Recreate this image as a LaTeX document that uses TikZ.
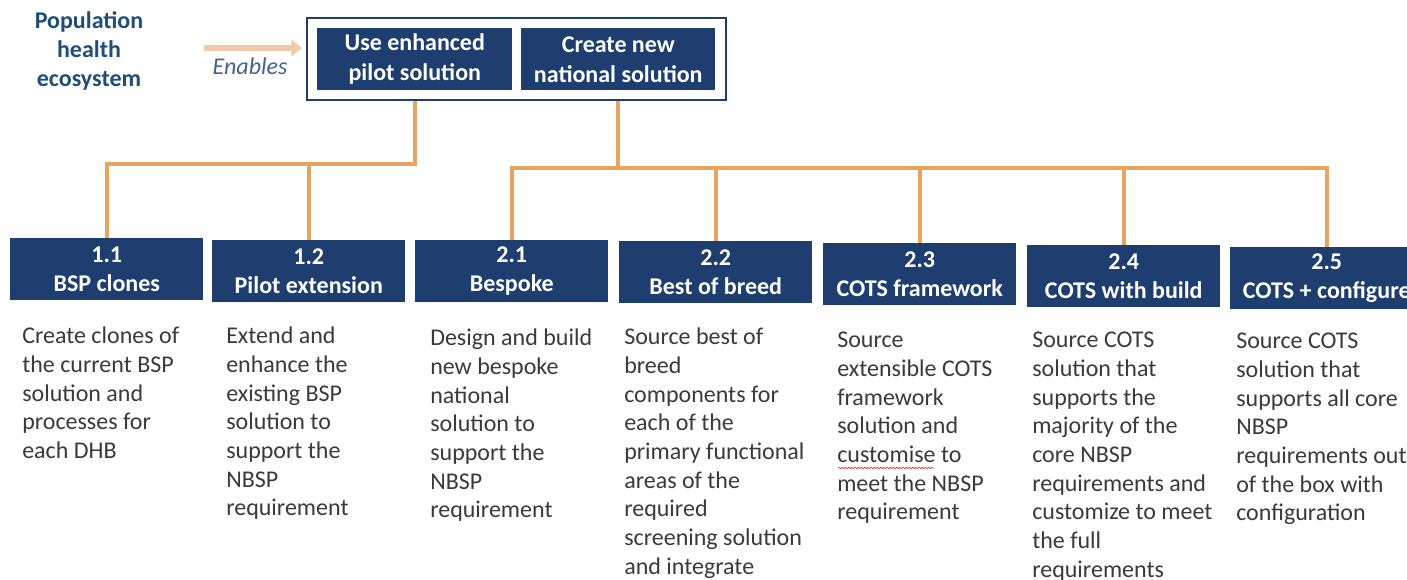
\documentclass[tikz,border=0pt]{standalone}
\usepackage{fontspec}
\setmainfont{Carlito}
\usetikzlibrary{arrows.meta,decorations.pathmorphing}
\definecolor{navy}{HTML}{1D3E6F}
\definecolor{branch}{HTML}{E7A45E}
\definecolor{headblue}{HTML}{1F4E79}
\definecolor{slate}{HTML}{44648C}
\definecolor{bodytext}{HTML}{3A3A3A}
\definecolor{peach}{HTML}{F2C9A8}
\definecolor{spellred}{HTML}{E03030}

\begin{document}
\begin{tikzpicture}[x=0.75pt,y=-0.75pt,
  topbox/.style={fill=navy, text=white, font=\bfseries\fontsize{18}{22.5}\selectfont,
    align=center, minimum height=46.5pt, inner sep=0pt, anchor=north west},
  optbox/.style={fill=navy, text=white, font=\bfseries\fontsize{18}{21.75}\selectfont,
    align=center, minimum width=144.75pt, minimum height=46.5pt, inner sep=0pt, anchor=north west},
  desc/.style={text=bodytext, font=\fontsize{18}{21.5}\selectfont, align=left,
    anchor=north west, inner sep=0pt},
  link/.style={draw=branch, line width=3pt},
]
\clip (0,0) rectangle (1407,579);
\fill[white] (0,0) rectangle (1407,579);

% ---- left caption and arrow ----
\node[headblue, font=\bfseries\fontsize{18}{21.75}\selectfont, align=center] (eco) at (89,51)
  {Population\\health\\ecosystem};
\coordinate (arrowtail) at (204,48);
\coordinate (arrowtip) at (302,48);
\draw[peach, line width=4pt, -{Triangle[length=8pt,width=12pt]}] (arrowtail) -- (arrowtip);
\node[slate, font=\itshape\fontsize{18}{21.75}\selectfont] (enables) at (250,66) {Enables};

% ---- top: the two solution approaches inside a frame ----
\node[draw=navy, line width=1.6pt, minimum width=314.25pt, minimum height=61.5pt,
  inner sep=0pt, anchor=north west] (frame) at (306,17) {};
\node[topbox, minimum width=146.25pt] (pilot) at (317,28) {Use enhanced\\pilot solution};
\node[topbox, minimum width=145.5pt] (natl) at (521,28) {Create new\\national solution};

% ---- option boxes ----
\node[optbox] (o11) at (10,238)   {1.1\\BSP clones};
\node[optbox] (o12) at (212,240)  {1.2\\Pilot extension};
\node[optbox] (o21) at (415,240)  {2.1\\Bespoke};
\node[optbox] (o22) at (619,241)  {2.2\\Best of breed};
\node[optbox] (o23) at (823,243)  {2.3\\COTS framework};
\node[optbox] (o24) at (1027,245) {2.4\\COTS with build};
\node[optbox] (o25) at (1230,247) {2.5\\COTS + configure};

% ---- branch connectors ----
\coordinate (busL) at (0,164);
\coordinate (busR) at (0,168);
\draw[link] (pilot.south |- frame.south) |- (o11.north |- busL) -- (o11.north);
\draw[link] (o12.north) -- (o12.north |- busL);
\draw[link] (natl.south |- frame.south) -- (natl.south |- busR);
\draw[link] (o21.north) |- (o25.north |- busR) -- (o25.north);
\draw[link] (o22.north) -- (o22.north |- busR);
\draw[link] (o23.north) -- (o23.north |- busR);
\draw[link] (o24.north) -- (o24.north |- busR);

% ---- descriptions ----
\node[desc] (d11) at (22,327)   {Create clones of\\the current BSP\\solution and\\processes for\\each DHB};
\node[desc] (d12) at (226,327)  {Extend and\\enhance the\\existing BSP\\solution to\\support the\\NBSP\\requirement};
\node[desc] (d21) at (430,329)  {Design and build\\new bespoke\\national\\solution to\\support the\\NBSP\\requirement};
\node[desc] (d22) at (624,328)  {Source best of\\breed\\components for\\each of the\\primary functional\\areas of the\\required\\screening solution\\and integrate};
\node[desc] (d23) at (837,332)  {Source\\extensible COTS\\framework\\solution and\\customise to\\meet the NBSP\\requirement};
\node[desc] (d24) at (1032,332) {Source COTS\\solution that\\supports the\\majority of the\\core NBSP\\requirements and\\customize to meet\\the full\\requirements};
\node[desc] (d25) at (1236,333) {Source COTS\\solution that\\supports all core\\NBSP\\requirements out\\of the box with\\configuration};

% spell-check squiggle under "customise"
\draw[spellred, line width=0.5pt, decorate,
  decoration={snake, amplitude=0.5pt, segment length=2.4pt}] (838,468) -- (934,468);
\end{tikzpicture}
\end{document}
